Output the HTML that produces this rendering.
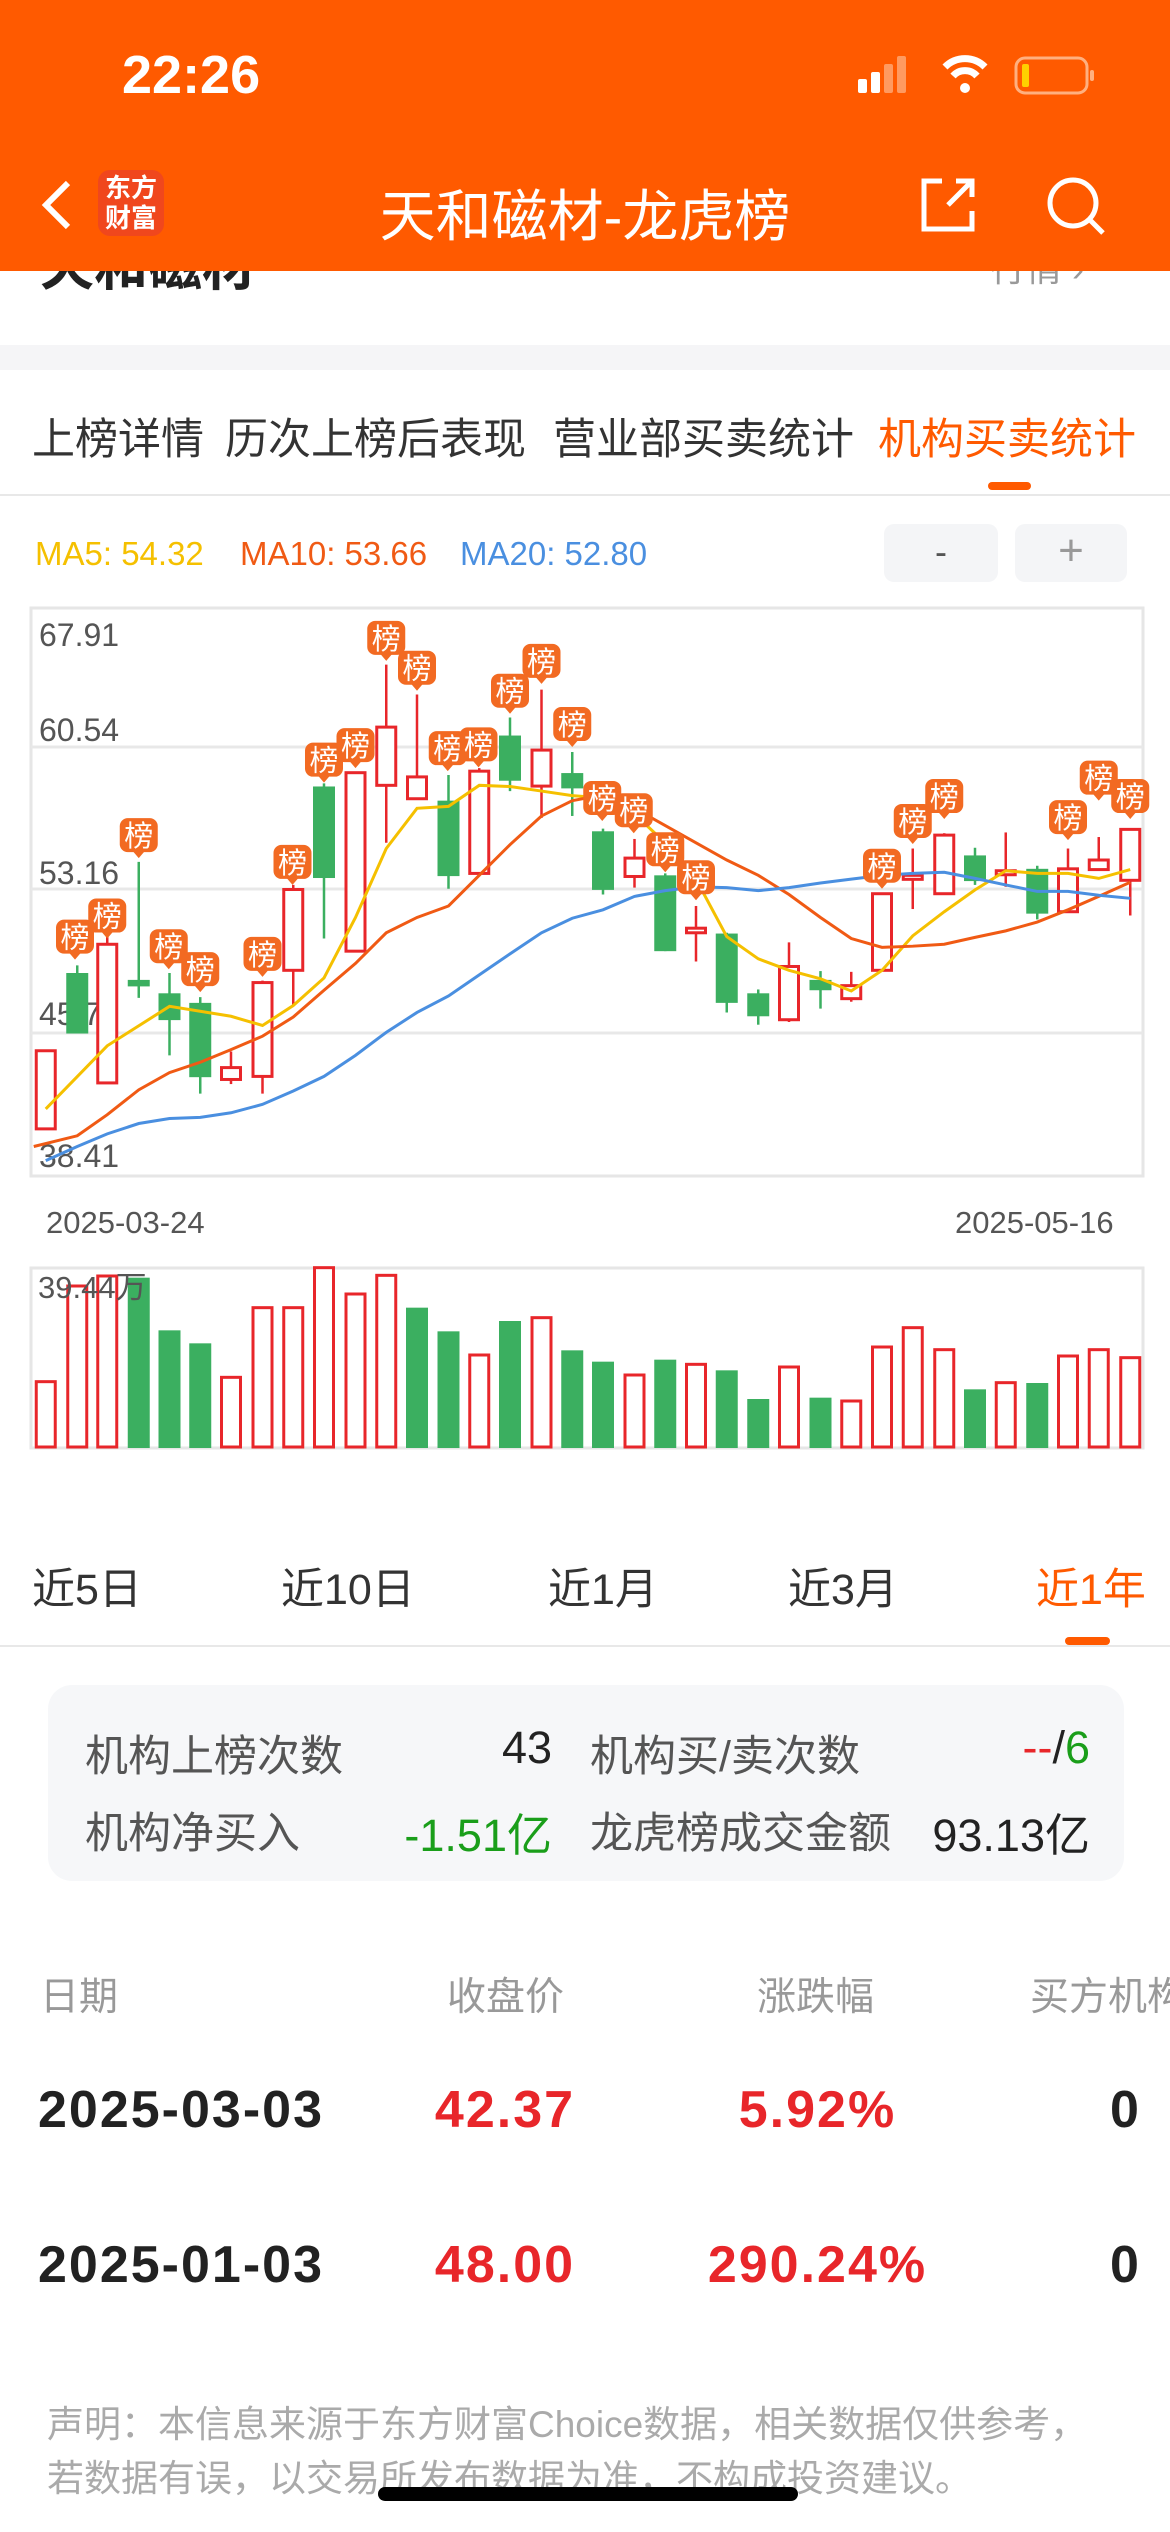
<!DOCTYPE html>
<html><head><meta charset="utf-8">
<style>
*{margin:0;padding:0;box-sizing:border-box}
body{width:1170px;height:2532px;position:relative;background:#fff;font-family:"Liberation Sans","Noto Sans CJK SC",sans-serif;overflow:hidden}
.a{position:absolute;white-space:nowrap}
</style></head><body>
<div class="a" style="left:40px;top:222px;font-size:54px;font-weight:bold;color:#222">天和磁材</div>
<div class="a" style="left:990px;top:240px;font-size:36px;color:#999">行情 ›</div>
<div class="a" style="left:0;top:0;width:1170px;height:271px;background:#FF5A00"></div>
<div class="a" style="left:122px;top:44px;font-size:54px;color:#fff;font-weight:bold">22:26</div>
<svg class="a" style="left:850px;top:55px" width="260" height="45">
<rect x="8" y="24" width="9" height="14" rx="2" fill="#fff"/><rect x="21" y="17" width="9" height="21" rx="2" fill="#fff"/>
<rect x="34" y="9" width="9" height="29" rx="2" fill="#ff9a60"/><rect x="47" y="1" width="9" height="37" rx="2" fill="#ff9a60"/>
<path d="M95 12 a28 28 0 0 1 40 0" stroke="#fff" stroke-width="7" fill="none"/><path d="M103 21 a16 16 0 0 1 24 0" stroke="#fff" stroke-width="7" fill="none"/><circle cx="115" cy="33" r="5" fill="#fff"/>
<rect x="166" y="3" width="71" height="35" rx="9" stroke="#ffb080" stroke-width="3" fill="none"/><rect x="172" y="9" width="7" height="23" rx="2" fill="#FFD000"/><rect x="240" y="15" width="4" height="11" rx="2" fill="#ffb080"/>
</svg>
<svg class="a" style="left:36px;top:180px" width="40" height="50"><path d="M32 3 L10 25 L32 47" stroke="#fff" stroke-width="6" fill="none"/></svg>
<div class="a" style="left:98px;top:170px;width:66px;height:66px;background:#F0471D;border-radius:12px;color:#fff;font-size:26px;line-height:30px;text-align:center;padding-top:3px;font-weight:bold">东方<br>财富</div>
<div class="a" style="left:0;width:1170px;top:172px;text-align:center;font-size:56px;color:#fff">天和磁材-龙虎榜</div>
<svg class="a" style="left:920px;top:175px" width="60" height="60"><path d="M22 6 H4 V54 H52 V36" stroke="#fff" stroke-width="5" fill="none"/><path d="M28 30 L52 6 M36 6 H52 V22" stroke="#fff" stroke-width="5" fill="none"/></svg>
<svg class="a" style="left:1045px;top:175px" width="65" height="65"><circle cx="28" cy="28" r="23" stroke="#fff" stroke-width="5" fill="none"/><path d="M45 45 L58 58" stroke="#fff" stroke-width="5"/></svg>

<div class="a" style="left:0;top:345px;width:1170px;height:25px;background:#f5f5f7"></div>
<div class="a" style="left:32px;top:405px;font-size:43px;color:#333">上榜详情</div>
<div class="a" style="left:225px;top:405px;font-size:43px;color:#333">历次上榜后表现</div>
<div class="a" style="left:553px;top:405px;font-size:43px;color:#333">营业部买卖统计</div>
<div class="a" style="left:878px;top:405px;font-size:43px;color:#FF5A00">机构买卖统计</div>
<div class="a" style="left:988px;top:482px;width:43px;height:8px;border-radius:4px;background:#FF5A00"></div>
<div class="a" style="left:0;top:494px;width:1170px;height:2px;background:#e8e8e8"></div>

<div class="a" style="left:35px;top:535px;font-size:33px;color:#F5C000">MA5: 54.32</div>
<div class="a" style="left:240px;top:535px;font-size:33px;color:#F05A14">MA10: 53.66</div>
<div class="a" style="left:460px;top:535px;font-size:33px;color:#4A8FE0">MA20: 52.80</div>
<div class="a" style="left:884px;top:524px;width:114px;height:58px;background:#f4f5f7;border-radius:10px;text-align:center;font-size:36px;line-height:56px;color:#555">-</div>
<div class="a" style="left:1015px;top:524px;width:112px;height:58px;background:#f4f5f7;border-radius:10px;text-align:center;font-size:44px;line-height:54px;color:#999">+</div>

<svg id="ch" class="a" style="left:0;top:0" width="1170" height="1460"></svg>
<div class="a" style="left:46px;top:1205px;font-size:31px;color:#555">2025-03-24</div>
<div class="a" style="left:955px;top:1205px;font-size:31px;color:#555">2025-05-16</div>

<div class="a" style="left:32px;top:1555px;font-size:43px;color:#333">近5日</div>
<div class="a" style="left:281px;top:1555px;font-size:43px;color:#333">近10日</div>
<div class="a" style="left:548px;top:1555px;font-size:43px;color:#333">近1月</div>
<div class="a" style="left:788px;top:1555px;font-size:43px;color:#333">近3月</div>
<div class="a" style="left:1036px;top:1555px;font-size:43px;color:#FF5A00">近1年</div>
<div class="a" style="left:1065px;top:1637px;width:45px;height:8px;border-radius:4px;background:#FF5A00"></div>
<div class="a" style="left:0;top:1645px;width:1170px;height:2px;background:#e8e8e8"></div>

<div class="a" style="left:48px;top:1685px;width:1076px;height:196px;background:#f6f7f9;border-radius:24px"></div>
<div class="a" style="left:85px;top:1722px;font-size:43px;color:#555">机构上榜次数</div>
<div class="a" style="left:400px;width:152px;text-align:right;top:1722px;font-size:45px;color:#222">43</div>
<div class="a" style="left:590px;top:1722px;font-size:43px;color:#555">机构买/卖次数</div>
<div class="a" style="left:900px;width:190px;text-align:right;top:1722px;font-size:45px;color:#222"><span style="color:#e8262a">--</span>/<span style="color:#1a9e1a">6</span></div>
<div class="a" style="left:85px;top:1799px;font-size:43px;color:#555">机构净买入</div>
<div class="a" style="left:352px;width:200px;text-align:right;top:1799px;font-size:45px;color:#1a9e1a">-1.51亿</div>
<div class="a" style="left:590px;top:1799px;font-size:43px;color:#555">龙虎榜成交金额</div>
<div class="a" style="left:890px;width:200px;text-align:right;top:1799px;font-size:45px;color:#222">93.13亿</div>

<div class="a" style="left:40px;top:1966px;font-size:39px;color:#999">日期</div>
<div class="a" style="left:447px;top:1966px;font-size:39px;color:#999">收盘价</div>
<div class="a" style="left:757px;top:1966px;font-size:39px;color:#999">涨跌幅</div>
<div class="a" style="left:1030px;top:1966px;font-size:39px;color:#999">买方机构</div>

<div class="a" style="left:38px;top:2080px;font-size:52px;letter-spacing:2px;font-weight:bold;color:#222">2025-03-03</div>
<div class="a" style="left:430px;top:2080px;width:150px;text-align:center;font-size:52px;letter-spacing:2px;font-weight:bold;color:#e8262a">42.37</div>
<div class="a" style="left:710px;top:2080px;width:215px;text-align:center;font-size:52px;letter-spacing:2px;font-weight:bold;color:#e8262a">5.92%</div>
<div class="a" style="left:1110px;top:2080px;font-size:52px;font-weight:bold;color:#222">0</div>
<div class="a" style="left:38px;top:2235px;font-size:52px;letter-spacing:2px;font-weight:bold;color:#222">2025-01-03</div>
<div class="a" style="left:430px;top:2235px;width:150px;text-align:center;font-size:52px;letter-spacing:2px;font-weight:bold;color:#e8262a">48.00</div>
<div class="a" style="left:700px;top:2235px;width:235px;text-align:center;font-size:52px;letter-spacing:2px;font-weight:bold;color:#e8262a">290.24%</div>
<div class="a" style="left:1110px;top:2235px;font-size:52px;font-weight:bold;color:#222">0</div>

<div class="a" style="left:47px;top:2394px;font-size:37px;color:#aaa">声明：本信息来源于东方财富Choice数据，相关数据仅供参考，</div>
<div class="a" style="left:47px;top:2448px;font-size:37px;color:#aaa">若数据有误，以交易所发布数据为准，不构成投资建议。</div>
<div class="a" style="left:378px;top:2487px;width:420px;height:14px;border-radius:7px;background:#000"></div>

<script>
var s=document.getElementById('ch'),h='';
var X=function(zx){return zx*0.75},Y=function(zy){return 608+(zy-22)*0.383};
h+='<rect x="31" y="608" width="1112" height="568" fill="#fff" stroke="#e6e6e6" stroke-width="3"/>';
[747,889,1033].forEach(function(y){h+='<line x1="31" x2="1143" y1="'+y+'" y2="'+y+'" stroke="#e8e8e8" stroke-width="3"/>'});
var lab=[['67.91',646],['60.54',741],['53.16',884],['45.79',1025],['38.41',1167]];
lab.forEach(function(l){h+='<text x="39" y="'+l[1]+'" font-size="32" fill="#555" font-family="Liberation Sans">'+l[0]+'</text>'});
var xs=[61,103,143,185,226,267,308,350,391,432,474,515,556,598,639,680,722,763,804,846,887,928,969,1011,1052,1094,1135,1176,1217,1259,1300,1341,1383,1424,1465,1507];
var C=[['R',1178,1382,1178,1382],['G',975,1133,955,1133],['R',900,1262,880,1262],['G',993,1010,685,1040],['G',1028,1098,975,1190],['G',1053,1247,1038,1290],['R',1222,1253,1180,1265],['R',1000,1245,995,1290],['R',757,968,745,1060],['G',488,727,480,885],['R',452,918,450,920],['R',333,485,170,635],['R',463,520,248,520],['G',525,722,458,755],['R',448,715,440,715],['G',355,473,308,500],['R',393,487,235,570],['G',453,493,398,565],['G',605,758,598,770],['R',675,723,625,752],['G',720,918,715,918],['R',858,870,800,945],['G',872,1053,870,1078],['G',1028,1088,1018,1110],['R',958,1097,895,1103],['G',993,1020,970,1068],['R',1008,1042,972,1050],['R',768,968,765,968],['R',720,728,650,808],['R',615,768,610,768],['G',668,735,648,745],['R',708,718,608,750],['G',703,820,695,835],['R',703,815,650,815],['R',680,705,620,705],['R',600,733,598,825]];
var red='#E8262A',grn='#3BAF60';
C.forEach(function(c,i){var x=X(xs[i]),t=Y(c[1]),b=Y(c[2]),hi=Y(c[3]),lo=Y(c[4]);var col=c[0]=='R'?red:grn;
h+='<line x1="'+x+'" x2="'+x+'" y1="'+hi+'" y2="'+lo+'" stroke="'+col+'" stroke-width="2.5"/>';
if(c[0]=='R')h+='<rect x="'+(x-9.5)+'" y="'+t+'" width="19" height="'+Math.max(b-t,4)+'" fill="#fff" stroke="'+red+'" stroke-width="3"/>';
else h+='<rect x="'+(x-11)+'" y="'+t+'" width="22" height="'+Math.max(b-t,4)+'" fill="'+grn+'"/>';});
function line(pts,col){h+='<polyline fill="none" stroke="'+col+'" stroke-width="3" points="'+pts.map(function(p){return X(p[0])+','+Y(p[1])}).join(' ')+'"/>'}
line([[61,1330],[143,1165],[226,1062],[308,1088],[350,1112],[391,1060],[432,988],[474,830],[515,650],[556,545],[598,540],[639,485],[680,488],[722,500],[763,512],[804,518],[846,560],[887,635],[928,730],[969,880],[1011,938],[1052,968],[1094,990],[1135,1022],[1176,968],[1217,878],[1259,815],[1300,758],[1341,708],[1383,715],[1424,715],[1465,728],[1507,705]],'#F5C000');
line([[45,1428],[103,1400],[143,1345],[185,1280],[226,1235],[267,1208],[308,1175],[350,1140],[391,1090],[432,1020],[474,950],[515,870],[556,830],[598,800],[639,720],[680,640],[722,565],[763,525],[804,510],[846,545],[887,590],[928,635],[969,680],[1011,720],[1052,770],[1094,830],[1135,885],[1176,908],[1217,905],[1259,900],[1300,882],[1341,865],[1383,842],[1424,810],[1465,775],[1507,738]],'#F05A14');
line([[61,1465],[103,1428],[143,1395],[185,1368],[226,1355],[267,1352],[308,1340],[350,1318],[391,1283],[432,1245],[474,1190],[515,1130],[556,1078],[598,1035],[639,980],[680,925],[722,870],[763,832],[804,810],[846,775],[887,760],[928,750],[969,752],[1011,760],[1052,752],[1094,740],[1135,730],[1176,720],[1217,715],[1259,712],[1300,728],[1341,745],[1383,762],[1424,762],[1465,772],[1507,780]],'#4A8FE0');
var B=[[100,880],[143,825],[185,615],[225,905],[267,965],[350,925],[390,685],[432,418],[474,380],[515,100],[556,178],[597,388],[638,378],[680,238],[722,160],[763,325],[803,518],[845,550],[887,652],[928,725],[1176,695],[1217,578],[1259,513],[1424,568],[1465,465],[1507,513]];
B.forEach(function(b){var x=X(b[0]),y=Y(b[1]);
h+='<rect x="'+(x-19)+'" y="'+(y-17)+'" width="38" height="34" rx="8" fill="#F26A22"/><path d="M'+(x-6)+' '+(y+16)+' L'+x+' '+(y+23)+' L'+(x+6)+' '+(y+16)+'Z" fill="#F26A22"/>';
h+='<text x="'+x+'" y="'+(y+11)+'" text-anchor="middle" font-size="29" fill="#fff" font-family="Noto Sans CJK SC,sans-serif">榜</text>';});
h+='<rect x="31" y="1268" width="1112" height="180" fill="#fff" stroke="#e6e6e6" stroke-width="3"/>';
var V=[545,258,228,233,391,430,532,323,323,203,282,226,323,394,465,363,353,451,485,525,479,493,511,597,501,593,603,441,383,449,568,548,549,468,449,473];
var VC='RRRGGGRRRRRRGGRGRGGRGRGGRGRRRRGRGRRR';
V.forEach(function(v,i){var x=X(xs[i]),t=1200+v/3;
if(VC[i]=='R')h+='<rect x="'+(x-9.5)+'" y="'+t+'" width="19" height="'+(1447-t)+'" fill="#fff" stroke="'+red+'" stroke-width="3"/>';
else h+='<rect x="'+(x-11)+'" y="'+t+'" width="22" height="'+(1448-t)+'" fill="'+grn+'"/>';});
h+='<text x="38" y="1298" font-size="31" fill="#555" font-family="Liberation Sans,Noto Sans CJK SC,sans-serif">39.44万</text>';
s.innerHTML=h;
</script>
</body></html>
